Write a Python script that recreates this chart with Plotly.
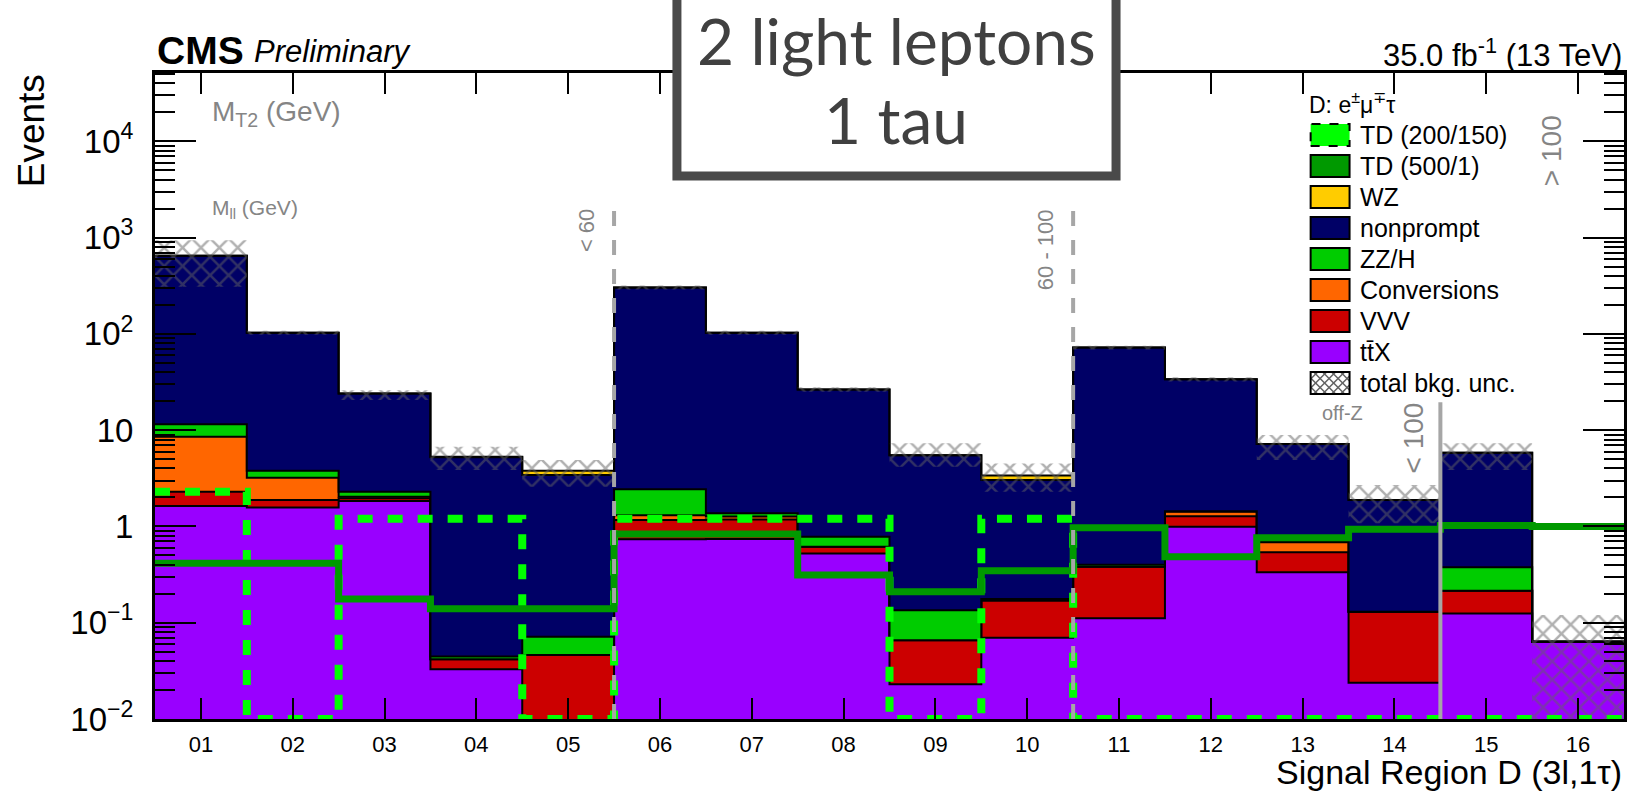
import numpy as np
import plotly.graph_objects as go

# ---------------- data ----------------
regions = ["01", "02", "03", "04", "05", "06", "07", "08",
           "09", "10", "11", "12", "13", "14", "15", "16"]

# background yields per signal region (stacked bottom -> top)
ttx = [1.63, 1.57, 1.84, 0.0328, 0.0, 0.735, 0.74, 0.525,
       0.0229, 0.0698, 0.111, 0.993, 0.334, 0.0238, 0.125, 0.0635]
vvv = [0.66, 0.31, 0.12, 0.0089, 0.0462, 0.43, 0.44, 0.09,
       0.043, 0.099, 0.271, 0.287, 0.204, 0.106, 0.09, 0.0]
conversions = [6.26, 1.32, 0.08, 0.0, 0.0, 0.145, 0.09, 0.0,
               0.0, 0.005, 0.0, 0.14, 0.146, 0.0, 0.0, 0.0]
zzh = [2.95, 0.59, 0.25, 0.003, 0.0254, 1.12, 0.10, 0.165,
       0.069, 0.003, 0.018, 0.02, 0.01, 0.0, 0.161, 0.0]
nonprompt = [638.0, 99.2, 21.8, 5.2, 3.35, 301.5, 101.6, 25.7,
             5.36, 2.86, 72.0, 32.3, 6.48, 1.75, 5.45, 0.0]
wz = [0.0, 0.0, 0.0, 0.05, 0.37, 0.0, 0.0, 0.0,
      0.0, 0.34, 0.0, 0.0, 0.0, 0.0, 0.0, 0.0]

# total background uncertainty band (upper / lower edge)
unc_up = [942, 108, 26.0, 6.73, 4.9, 318, 108, 28.0,
          7.3, 4.52, 75.5, 35.5, 8.9, 2.69, 7.3, 0.12]
unc_down = [308, 98, 20.6, 3.86, 2.58, 290, 98, 25.0,
            4.17, 2.29, 69.0, 32.0, 4.9, 1.08, 3.86, 0.0]

# signal expectations
td_200_150 = [2.29, 0.0, 1.2, 1.2, 0.0, 1.2, 1.2, 1.2,
              0.0, 1.2, 0.0, 0.0, 0.0, 0.0, 0.0, 0.0]
td_500_1 = [0.414, 0.414, 0.176, 0.14, 0.14, 0.834, 0.834, 0.313,
            0.21, 0.347, 0.97, 0.484, 0.763, 0.933, 1.02, 1.0]

# region boundaries (M_ll bins and off-Z M_T2 split)
mll_edges = [5.5, 10.5]
mll_line_top = 1930
mt2_edge = 14.5
mt2_line_top = 19.5

y_tick_vals = [1e-2, 1e-1, 1, 10, 1e2, 1e3, 1e4]
y_tick_text = ["10<sup>\u22122</sup>", "10<sup>\u22121</sup>", "1", "10",
               "10<sup>2</sup>", "10<sup>3</sup>", "10<sup>4</sup>"]

# ---------------- style ----------------
FONT = "Liberation Sans, Arial, Helvetica, sans-serif"
GRAY = "#858585"
HATCH = "#626262"
stack = [
    ("t\u0074\u0304X", ttx, "#9900ff"),
    ("VVV", vvv, "#cc0000"),
    ("Conversions", conversions, "#ff6600"),
    ("ZZ/H", zzh, "#00cc00"),
    ("nonprompt", nonprompt, "#000066"),
    ("WZ", wz, "#ffcc00"),
]

W, H = 1632, 793
L, R, T, B = 155, 1627, 73, 719
FLOOR = 10 ** -2.6
YMIN = 0.01

n = len(regions)
edges = np.arange(0.5, n + 1.0, 1.0)
centers = np.arange(1, n + 1)


def step(v):
    v = list(v)
    return v + [v[-1]]


def px(x):
    return (x - L) / (R - L)


def py(y):
    return (B - y) / (B - T)


fig = go.Figure()

# stacked background as filled step histograms
fig.add_trace(go.Scatter(x=edges, y=step(np.full(n, FLOOR)), mode="lines",
                         line=dict(width=0, shape="hv"), hoverinfo="skip",
                         showlegend=False))
cum = np.zeros(n)
for name, vals, color in stack:
    cum = cum + np.array(vals, dtype=float)
    fig.add_trace(go.Scatter(x=edges, y=step(np.maximum(cum, FLOOR)), mode="lines",
                             line=dict(color="black", width=2, shape="hv"),
                             fill="tonexty", fillcolor=color, name=name,
                             hoverinfo="skip", showlegend=False))

# total background uncertainty (hatched)
fig.add_trace(go.Scatter(x=edges, y=step(np.maximum(unc_down, FLOOR)), mode="lines",
                         line=dict(width=0, shape="hv"), hoverinfo="skip",
                         showlegend=False))
fig.add_trace(go.Scatter(x=edges, y=step(unc_up), mode="lines",
                         line=dict(width=0, shape="hv"), fill="tonexty",
                         fillcolor="rgba(0,0,0,0)",
                         fillpattern=dict(shape="x", fgcolor=HATCH,
                                          bgcolor="rgba(0,0,0,0)", size=13,
                                          solidity=0.35),
                         name="total bkg. unc.", hoverinfo="skip", showlegend=False))

# signal models
fig.add_trace(go.Scatter(x=edges, y=step(np.maximum(td_200_150, YMIN)), mode="lines",
                         line=dict(color="#00ff00", width=8, shape="hv", dash="15px,15px"),
                         name="TD (200/150)", hoverinfo="skip", showlegend=False))
fig.add_trace(go.Scatter(x=edges, y=step(np.maximum(td_500_1, YMIN)), mode="lines",
                         line=dict(color="#009900", width=7, shape="hv"),
                         name="TD (500/1)", hoverinfo="skip", showlegend=False))

# region separators
for xe in mll_edges:
    fig.add_trace(go.Scatter(x=[xe, xe], y=[YMIN, mll_line_top], mode="lines",
                             line=dict(color="#a6a6a6", width=4, dash="15px,14px"),
                             hoverinfo="skip", showlegend=False))
fig.add_trace(go.Scatter(x=[mt2_edge, mt2_edge], y=[YMIN, mt2_line_top], mode="lines",
                         line=dict(color="#a6a6a6", width=4),
                         hoverinfo="skip", showlegend=False))

minor_vals = [m * 10.0 ** d for d in range(-2, 5) for m in range(2, 10)
              if m * 10.0 ** d < 10 ** 4.71]

fig.update_xaxes(range=[0.5, n + 0.5], tickmode="array", tickvals=list(centers),
                 ticktext=regions, ticks="inside", ticklen=21, tickwidth=2,
                 tickcolor="black", showline=True, linecolor="black", linewidth=3,
                 mirror="allticks", showgrid=False, zeroline=False,
                 tickfont=dict(family=FONT, size=22, color="black"),
                 ticklabelstandoff=4)
fig.update_yaxes(type="log", range=[-2, 4.71], tickmode="array",
                 tickvals=y_tick_vals, ticktext=y_tick_text, ticks="inside",
                 ticklen=41, tickwidth=2, tickcolor="black", showline=True,
                 linecolor="black", linewidth=3, mirror="allticks", showgrid=False,
                 zeroline=False, tickfont=dict(family=FONT, size=33, color="black"),
                 ticklabelstandoff=12,
                 minor=dict(tickmode="array", tickvals=minor_vals, ticks="inside",
                            ticklen=20, tickwidth=2, tickcolor="black", showgrid=False))

shapes = []
annotations = []


def text(x, y, s, size, color="black", xanchor="left", yanchor="middle",
         angle=0, family=FONT):
    annotations.append(dict(x=px(x), y=py(y), xref="paper", yref="paper", text=s,
                            showarrow=False, xanchor=xanchor, yanchor=yanchor,
                            textangle=angle, font=dict(family=family, size=size,
                                                       color=color)))


# header texts
text(155, 50, "<b>CMS</b>", 39)
text(252, 51, "<i>Preliminary</i>", 31)
text(1627, 53, "35.0 fb<sup>-1</sup> (13 TeV)", 31, xanchor="right")
text(31, 131, "Events", 37, angle=-90, xanchor="center")
text(1627, 793, "Signal Region D (3l,1\u03c4)", 34, xanchor="right", yanchor="bottom")

# region labels
text(210, 113, "M<sub>T2</sub> (GeV)", 28, GRAY)
text(210, 209, "M<sub>ll</sub> (GeV)", 21, GRAY)
text(587, 231, "< 60", 22, GRAY, xanchor="center", angle=-90)
text(1047, 250, "60 - 100", 22, GRAY, xanchor="center", angle=-90)
text(1555, 151, "> 100", 28, GRAY, xanchor="center", angle=-90)
text(1345, 413, "off-Z", 20, GRAY, xanchor="center")
text(1416, 438, "< 100", 28, GRAY, xanchor="center", angle=-90)

# legend
bx0, bx1, bh = 1313, 1352, 22
text(1309, 103, "D: e<sup>\u00b1</sup>\u03bc<sup>\u2213</sup>\u03c4", 23)
legend_items = [
    ("TD (200/150)", "#00ff00", "dash"),
    ("TD (500/1)", "#009900", "solid"),
    ("WZ", "#ffcc00", "solid"),
    ("nonprompt", "#000066", "solid"),
    ("ZZ/H", "#00cc00", "solid"),
    ("Conversions", "#ff6600", "solid"),
    ("VVV", "#cc0000", "solid"),
    ("t\u0074\u0304X", "#9900ff", "solid"),
    ("total bkg. unc.", "white", "hatch"),
]
for i, (label, color, style) in enumerate(legend_items):
    yc = 135 + 31 * i
    y0, y1 = yc - bh / 2, yc + bh / 2
    if style == "hatch":
        s = 9
        for k in np.arange(-60, 60, s):
            # "\" direction: y = x - off
            off = bx0 - y0 + k
            xa, xb = max(bx0, y0 + off), min(bx1, y1 + off)
            if xb > xa:
                shapes.append(dict(type="line", xref="paper", yref="paper",
                                   x0=px(xa), y0=py(xa - off), x1=px(xb), y1=py(xb - off),
                                   line=dict(color=HATCH, width=1.5)))
            # "/" direction: y = c - x
            c = bx0 + y1 + k
            xa, xb = max(bx0, c - y1), min(bx1, c - y0)
            if xb > xa:
                shapes.append(dict(type="line", xref="paper", yref="paper",
                                   x0=px(xa), y0=py(c - xa), x1=px(xb), y1=py(c - xb),
                                   line=dict(color=HATCH, width=1.5)))
        shapes.append(dict(type="rect", xref="paper", yref="paper",
                           x0=px(bx0), x1=px(bx1), y0=py(y1), y1=py(y0),
                           line=dict(color="black", width=2)))
    else:
        shapes.append(dict(type="rect", xref="paper", yref="paper",
                           x0=px(bx0), x1=px(bx1), y0=py(y1), y1=py(y0),
                           fillcolor=color,
                           line=dict(color="black", width=2,
                                     dash="dash" if style == "dash" else "solid")))
    text(1360, yc, label, 25)

# channel box
shapes.append(dict(type="rect", xref="paper", yref="paper", layer="above",
                   x0=px(678), x1=px(1118), y0=py(176), y1=py(-60),
                   fillcolor="white", line=dict(color="#4a4a4a", width=9)))
text(898, 40, "2 light leptons", 64, "#404040", xanchor="center", family="Lato")
text(898, 120, "1 tau", 64, "#404040", xanchor="center", family="Lato")

fig.update_layout(width=W, height=H, autosize=False,
                  margin=dict(l=L, r=W - R, t=T, b=H - B, pad=0),
                  paper_bgcolor="white", plot_bgcolor="white",
                  shapes=shapes, annotations=annotations, showlegend=False)

fig.write_html("out.html")
